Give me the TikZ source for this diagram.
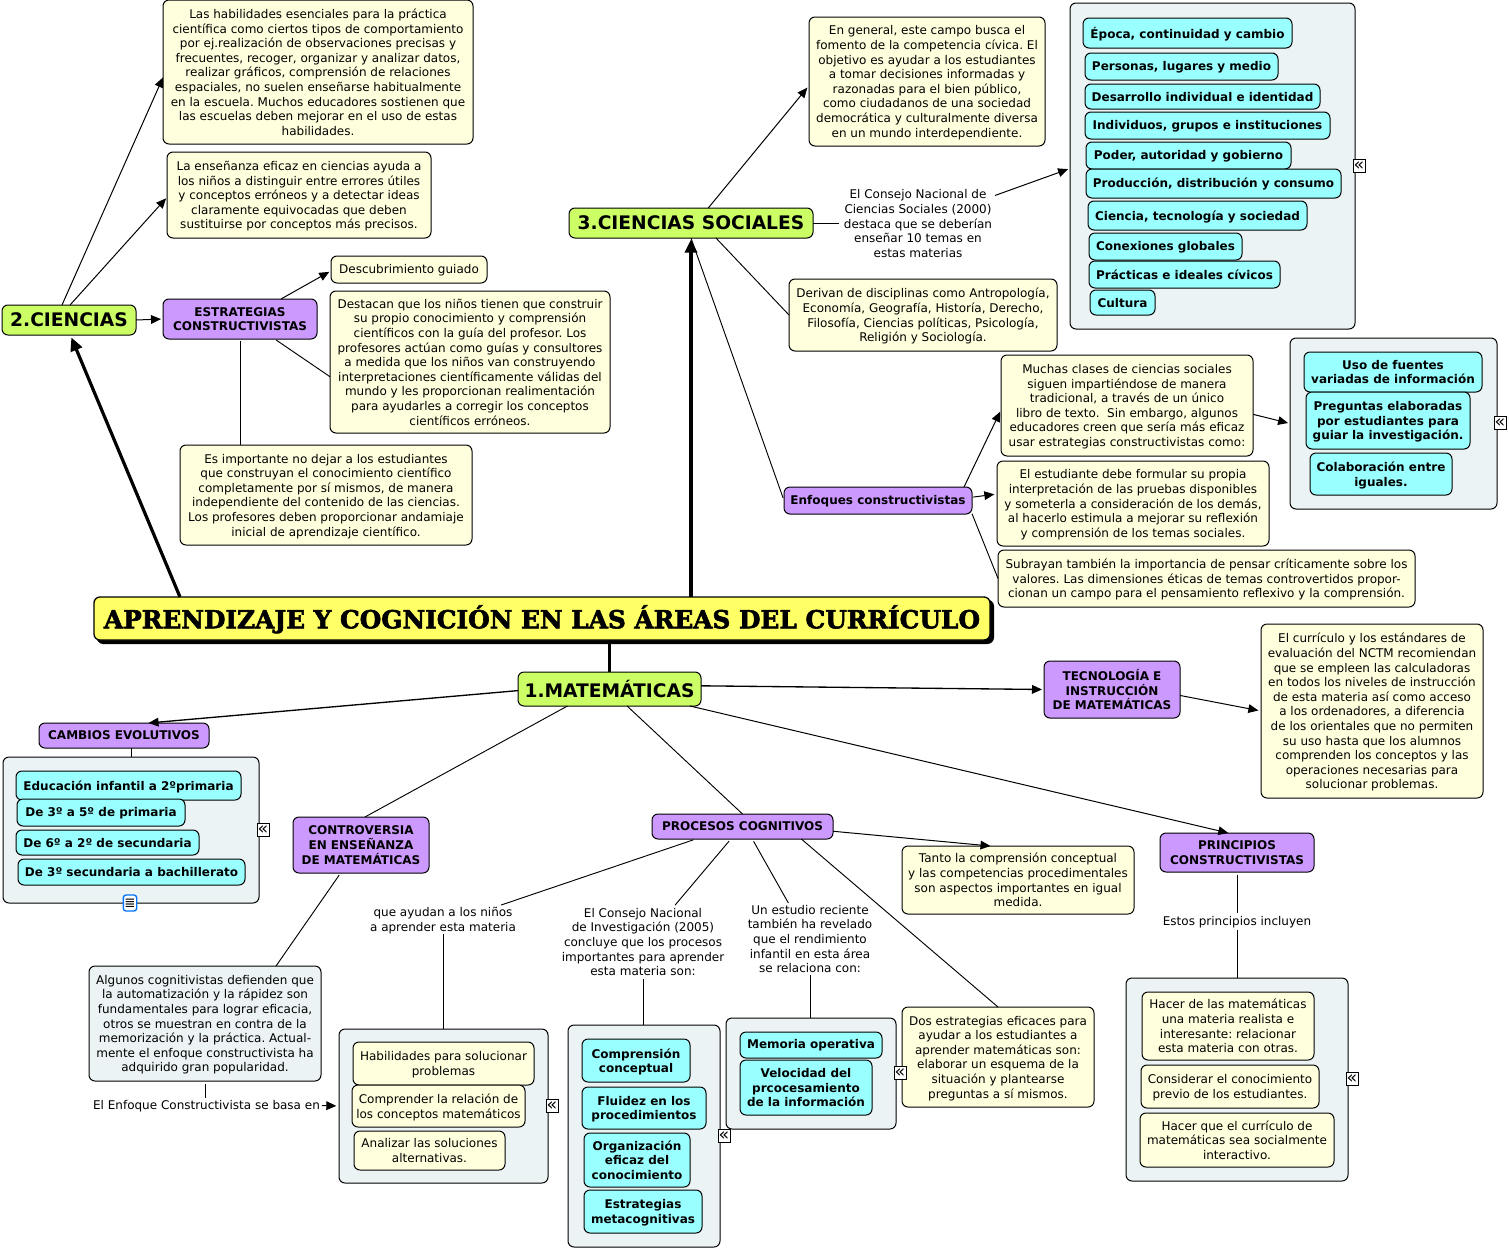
\documentclass[tikz,border=0pt]{standalone}
\usepackage{fontspec}
\setmainfont{DejaVu Sans}
\newfontfamily\ttlfont[UprightFont=* Bold,FakeBold=2.4]{DejaVu Serif}
\usetikzlibrary{arrows.meta,shadows}
\AtBeginDocument{\frenchspacing}

\definecolor{ttlyel}{HTML}{FFFF66}
\definecolor{txtyel}{HTML}{FFFFDD}
\definecolor{lime}{HTML}{CCFF66}
\definecolor{purp}{HTML}{CC99FF}
\definecolor{cyanb}{HTML}{99FFFF}
\definecolor{cont}{HTML}{ECF3F5}

\tikzset{
 bx/.style args={#1/#2/#3/#4}{at={({(#1+#3)/2},{(#2+#4)/2})}, minimum width={0.75*(#3-#1)}, minimum height={0.75*(#4-#2)}},
 base/.style={draw=black, line width=0.75pt, rounded corners=4.5pt, inner sep=0pt, outer sep=0pt, align=center, text=black, text depth=0pt},
 one/.style={text depth=1.2pt},
 txtbox/.style={base, fill=txtyel, font=\fontsize{9}{10.95}\selectfont},
 gbox/.style={base, fill=cont},
 lvl/.style={base, fill=lime, font=\fontsize{14}{18}\selectfont\bfseries},
 pur/.style={base, fill=purp, font=\fontsize{9}{10.95}\selectfont\bfseries},
 cyn/.style={base, fill=cyanb, font=\fontsize{9}{10.95}\selectfont\bfseries},
 lnk/.style={inner sep=0pt, outer sep=0pt, align=center, text depth=0pt, font=\fontsize{9}{10.95}\selectfont},
 expd/.style={draw=black, fill=white, line width=0.7pt, inner sep=0pt, minimum width=9pt, minimum height=9.5pt, font=\fontsize{13}{13}\selectfont},
 con/.style={line width=0.7pt},
 arr/.style={line width=0.75pt, -{Triangle[length=7.5pt,width=6.5pt]}},
 matarr/.style={line width=1pt, -{Triangle[length=7.5pt,width=6.5pt]}},
 hvy/.style={line width=2.4pt},
 hvyarr/.style={line width=2.4pt, -{Triangle[length=10pt,width=9pt]}}
}

\begin{document}
\begin{tikzpicture}[x=0.75pt,y=-0.75pt]
 \useasboundingbox (0,0) rectangle (1509,1249);

 \node[base, fill=ttlyel, line width=1pt, text depth=2.6pt, copy shadow={shadow xshift=2.5pt, shadow yshift=-2.5pt, fill=black, draw=black}, bx=94/597/990/640, font=\ttlfont\fontsize{18.6}{20}\selectfont] (ttl) {APRENDIZAJE Y COGNICIÓN EN LAS ÁREAS DEL CURRÍCULO};

 \node[lvl, bx=518/672/701/706] (mat) {1.MATEMÁTICAS};
 \node[lvl, bx=2/305/136/335] (cien) {2.CIENCIAS};
 \node[lvl, bx=569/208/813/238] (soc) {3.CIENCIAS SOCIALES};

 \node[txtbox, bx=163/0/473/144] (hab) {Las habilidades esenciales para la práctica\\científica como ciertos tipos de comportamiento\\por ej.realización de observaciones precisas y\\frecuentes, recoger, organizar y analizar datos,\\realizar gráficos, comprensión de relaciones\\espaciales, no suelen enseñarse habitualmente\\en la escuela. Muchos educadores sostienen que\\las escuelas deben mejorar en el uso de estas\\habilidades.};
 \node[txtbox, bx=167/152/431/238] (ens) {La enseñanza eficaz en ciencias ayuda a\\los niños a distinguir entre errores útiles\\y conceptos erróneos y a detectar ideas\\claramente equivocadas que deben\\sustituirse por conceptos más precisos.};
 \node[pur, bx=163/299/317/339] (estr) {ESTRATEGIAS\\CONSTRUCTIVISTAS};
 \node[txtbox, one, bx=331/256/487/283] (desc) {Descubrimiento guiado};
 \node[txtbox, bx=330/291/610/433] (dest) {Destacan que los niños tienen que construir\\su propio conocimiento y comprensión\\científicos con la guía del profesor. Los\\profesores actúan como guías y consultores\\a medida que los niños van construyendo\\interpretaciones científicamente válidas del\\mundo y les proporcionan realimentación\\para ayudarles a corregir los conceptos\\científicos erróneos.};
 \node[txtbox, bx=180/445/472/545] (imp) {Es importante no dejar a los estudiantes\\que construyan el conocimiento científico\\completamente por sí mismos, de manera\\independiente del contenido de las ciencias.\\Los profesores deben proporcionar andamiaje\\inicial de aprendizaje científico.};

 \node[txtbox, bx=809/17/1045/146] (gen) {En general, este campo busca el\\fomento de la competencia cívica. El\\objetivo es ayudar a los estudiantes\\a tomar decisiones informadas y\\razonadas para el bien público,\\como ciudadanos de una sociedad\\democrática y culturalmente diversa\\en un mundo interdependiente.};
 \node[lnk, bx=841/186/995/261] (cons) {El Consejo Nacional de\\Ciencias Sociales (2000)\\destaca que se deberían\\enseñar 10 temas en\\estas materias};
 \node[txtbox, bx=789/279/1057/351] (deri) {Derivan de disciplinas como Antropología,\\Economía, Geografía, Historía, Derecho,\\Filosofía, Ciencias políticas, Psicología,\\Religión y Sociología.};

 \node[gbox, bx=1070/3/1355/329] (temas) {};
 \node[cyn, bx=1083/18/1292/48] (t1) {Época, continuidad y cambio};
 \node[cyn, one, bx=1085/53/1278/80] (t2) {Personas, lugares y medio};
 \node[cyn, bx=1085/84/1320/109] (t3) {Desarrollo individual e identidad};
 \node[cyn, one, bx=1085/112/1330/139] (t4) {Individuos, grupos e instituciones};
 \node[cyn, one, bx=1086/142/1291/169] (t5) {Poder, autoridad y gobierno};
 \node[cyn, one, bx=1086/169/1341/198] (t6) {Producción, distribución y consumo};
 \node[cyn, bx=1088/201/1307/230] (t7) {Ciencia, tecnología y sociedad};
 \node[cyn, one, bx=1089/233/1242/260] (t8) {Conexiones globales};
 \node[cyn, bx=1089/261/1280/288] (t9) {Prácticas e ideales cívicos};
 \node[cyn, bx=1090/290/1155/315] (t10) {Cultura};

 \node[pur, one, bx=784/487/972/514] (enf) {Enfoques constructivistas};
 \node[txtbox, bx=1001/355/1253/456] (much) {Muchas clases de ciencias sociales\\siguen impartiéndose de manera\\tradicional, a través de un único\\libro de texto.\ \ Sin embargo, algunos\\educadores creen que sería más eficaz\\usar estrategias constructivistas como:};
 \node[gbox, bx=1290/338/1497/509] (fuen) {};
 \node[cyn, bx=1304/352/1482/392] (f1) {Uso de fuentes\\variadas de información};
 \node[cyn, bx=1306/392/1470/449] (f2) {Preguntas elaboradas\\por estudiantes para\\guiar la investigación.};
 \node[cyn, bx=1310/453/1452/495] (f3) {Colaboración entre\\iguales.};
 \node[txtbox, bx=997/461/1269/546] (estu) {El estudiante debe formular su propia\\interpretación de las pruebas disponibles\\y someterla a consideración de los demás,\\al hacerlo estimula a mejorar su reflexión\\y comprensión de los temas sociales.};
 \node[txtbox, bx=998/550/1415/607] (subr) {Subrayan también la importancia de pensar críticamente sobre los\\valores. Las dimensiones éticas de temas controvertidos propor-\\cionan un campo para el pensamiento reflexivo y la comprensión.};

 \node[pur, bx=1044/661/1180/718] (tec) {TECNOLOGÍA E\\INSTRUCCIÓN\\DE MATEMÁTICAS};
 \node[txtbox, bx=1261/624/1483/798] (curr) {El currículo y los estándares de\\evaluación del NCTM recomiendan\\que se empleen las calculadoras\\en todos los niveles de instrucción\\de esta materia así como acceso\\a los ordenadores, a diferencia\\de los orientales que no permiten\\su uso hasta que los alumnos\\comprenden los conceptos y las\\operaciones necesarias para\\solucionar problemas.};

 \node[pur, bx=39/723/209/748] (camb) {CAMBIOS EVOLUTIVOS};
 \node[gbox, bx=3/757/259/903] (edad) {};
 \node[cyn, bx=16/771/241/800] (e1) {Educación infantil a 2ºprimaria};
 \node[cyn, one, bx=17/799/185/826] (e2) {De 3º a 5º de primaria};
 \node[cyn, bx=16/830/199/855] (e3) {De 6º a 2º de secundaria};
 \node[cyn, bx=18/859/245/885] (e4) {De 3º secundaria a bachillerato};
 \node[draw=blue!55!cyan, fill=white, rounded corners=2pt, line width=1pt, inner sep=0pt, minimum width=10pt, minimum height=12pt, font=\fontsize{10}{10}\selectfont] (nota) at (130,903) {≣};

 \node[pur, bx=293/817/429/873] (contr) {CONTROVERSIA\\EN ENSEÑANZA\\DE MATEMÁTICAS};
 \node[gbox, font=\fontsize{9}{10.95}\selectfont, bx=89/966/321/1081] (alg) {Algunos cognitivistas defienden que\\la automatización y la rápidez son\\fundamentales para lograr eficacia,\\otros se muestran en contra de la\\memorización y la práctica. Actual-\\mente el enfoque constructivista ha\\adquirido gran popularidad.};
 \node[lnk, one, bx=91/1098/322/1113] (base) {El Enfoque Constructivista se basa en};
 \node[gbox, bx=339/1029/548/1183] (solu) {};
 \node[txtbox, bx=353/1042/534/1085] (s1) {Habilidades para solucionar\\problemas};
 \node[txtbox, bx=352/1085/525/1127] (s2) {Comprender la relación de\\los conceptos matemáticos};
 \node[txtbox, bx=354/1131/505/1170] (s3) {Analizar las soluciones\\alternativas.};

 \node[pur, bx=652/814/833/839] (proc) {PROCESOS COGNITIVOS};
 \node[lnk, bx=368/905/518/934] (que) {que ayudan a los niños\\a aprender esta materia};
 \node[lnk, bx=560/905/726/979] (cni) {El Consejo Nacional\\de Investigación (2005)\\concluye que los procesos\\importantes para aprender\\esta materia son:};
 \node[gbox, bx=568/1025/720/1247] (comp) {};
 \node[cyn, bx=582/1039/690/1082] (c1) {Comprensión\\conceptual};
 \node[cyn, bx=582/1087/706/1129] (c2) {Fluidez en los\\procedimientos};
 \node[cyn, bx=584/1133/690/1187] (c3) {Organización\\eficaz del\\conocimiento};
 \node[cyn, bx=584/1190/702/1233] (c4) {Estrategias\\metacognitivas};
 \node[lnk, bx=745/903/875/975] (estd) {Un estudio reciente\\también ha revelado\\que el rendimiento\\infantil en esta área\\se relaciona con:};
 \node[gbox, bx=726/1018/896/1129] (memo) {};
 \node[cyn, one, bx=740/1032/882/1058] (m1) {Memoria operativa};
 \node[cyn, bx=740/1060/872/1115] (m2) {Velocidad del\\prcocesamiento\\de la información};
 \node[txtbox, bx=902/1007/1094/1107] (dos) {Dos estrategias eficaces para\\ayudar a los estudiantes a\\aprender matemáticas son:\\elaborar un esquema de la\\situación y plantearse\\preguntas a sí mismos.};
 \node[txtbox, bx=902/846/1134/914] (tan) {Tanto la comprensión conceptual\\y las competencias procedimentales\\son aspectos importantes en igual\\medida.};

 \node[pur, bx=1160/833/1314/872] (prin) {PRINCIPIOS\\CONSTRUCTIVISTAS};
 \node[lnk, one, bx=1160/913/1314/930] (incl) {Estos principios incluyen};
 \node[gbox, bx=1126/978/1348/1181] (lista) {};
 \node[txtbox, bx=1142/992/1314/1060] (p1) {Hacer de las matemáticas\\una materia realista e\\interesante: relacionar\\esta materia con otras.};
 \node[txtbox, bx=1141/1065/1319/1108] (p2) {Considerar el conocimiento\\previo de los estudiantes.};
 \node[txtbox, bx=1140/1113/1334/1167] (p3) {Hacer que el currículo de\\matemáticas sea socialmente\\interactivo.};

 \node[expd] (xtemas) at (1359,166) {«};
 \node[expd] (xfuen) at (1500,423) {«};
 \node[expd] (xedad) at (263,830) {«};
 \node[expd] (xsolu) at (552,1106) {«};
 \node[expd] (xcomp) at (724,1136) {«};
 \node[expd] (xmemo) at (900,1073) {«};
 \node[expd] (xlista) at (1352,1079) {«};

 \draw[hvyarr, shorten >=2pt] ([xshift=64.5pt]ttl.north west) -- (cien.-85);
 \draw[hvyarr, shorten >=1pt] (ttl.north -| soc.south) -- (soc.south);
 \draw[hvy] (ttl.south -| mat.north) -- (mat.north);

 \draw[matarr] (mat.181.9) -- (camb.27.5);
 \draw[matarr, shorten >=1.5pt] (mat.2) -- (tec.west);
 \draw[con] (mat.202.3) -- (contr.82);
 \draw[con] (mat.-44.2) -- (proc.north);
 \draw[arr] ([xshift=129pt]mat.south west) -- (prin.114.8);
 \draw[arr, shorten >=2pt] (tec.-5.5) -- (curr.west);
 \draw[con] (edad.north) -- (edad.north |- camb.south);
 \draw[con, shorten <=2pt] (contr.234.5) -- (alg.39);
 \draw[con, shorten <=2pt] (alg.south) -- (alg.south |- base.north);
 \draw[arr, shorten >=2pt] (base.east) -- (solu.west);

 \draw[arr] (proc.-3.5) -- (tan.129.5);
 \draw[con, shorten <=2pt] (proc.195) -- (que.14.3);
 \draw[con, shorten <=2pt] (proc.227.4) -- (cni.49);
 \draw[con, shorten <=2pt] (proc.-52.8) -- (estd.121);
 \draw[con] (proc.-12.3) -- (dos.north);
 \draw[con] (que.south) -- (que.south |- solu.north);
 \draw[con] (cni.south) -- (cni.south |- comp.north);
 \draw[con] (estd.south) -- (estd.south |- memo.north);
 \draw[con, shorten <=2pt] (prin.south) -- (incl.north);
 \draw[con] (incl.south) -- (lista.north);

 \draw[arr] (cien.115) -- (hab.182);
 \draw[arr, shorten >=1pt] (cien.86) -- (ens.181);
 \draw[arr, shorten >=1.5pt] (cien.east) -- (estr.west);
 \draw[arr, shorten >=1.5pt] (estr.26) -- (desc.181);
 \draw[con, shorten <=1.5pt] (estr.-30.5) -- (dest.186.1);
 \draw[con, shorten <=1.5pt] (estr.south) -- (estr.south |- imp.north);

 \draw[arr, shorten >=2pt] (soc.41.4) -- (gen.182.1);
 \draw[con, shorten >=1.5pt] (soc.east) -- (soc.east -| cons.west);
 \draw[arr, shorten >=1.5pt] (cons.20.6) -- (temas.181);
 \draw[con] (soc.-31) -- (deri.west);
 \draw[con, shorten <=2pt] (enf.west) -- (soc.south);
 \draw[arr, shorten >=1.5pt] ([xshift=-6pt]enf.north east) -- (much.182);
 \draw[arr, shorten >=2pt, shorten <=1pt] (enf.2.7) -- (estu.176.8);
 \draw[con] (enf.-8.5) -- (subr.west);
 \draw[arr, shorten >=1.5pt] (much.-4.8) -- (fuen.west);
\end{tikzpicture}
\end{document}
